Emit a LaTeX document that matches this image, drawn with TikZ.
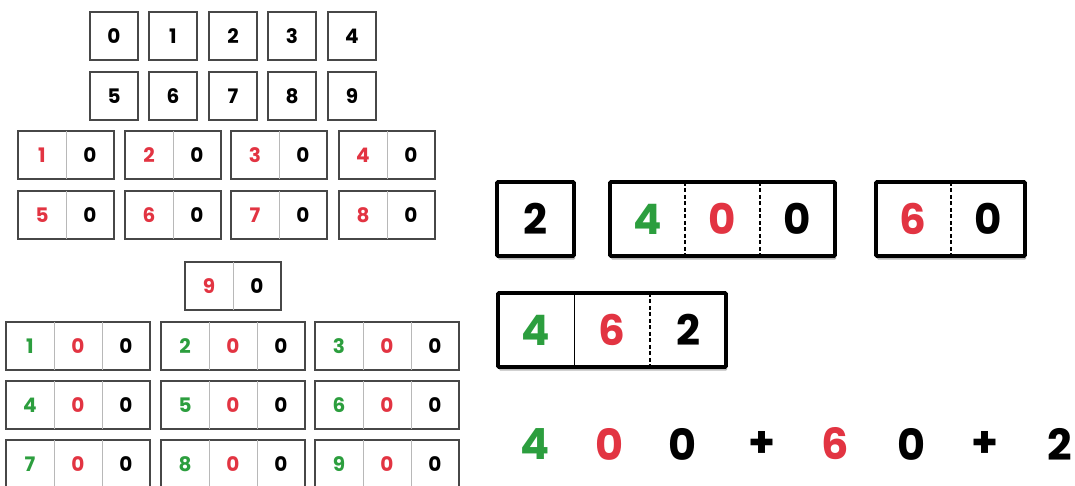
\documentclass[tikz,border=0pt]{standalone}
\usepackage{fontspec}
\setmainfont{Poppins}
\usetikzlibrary{shadows}

\definecolor{tensred}{RGB}{226,52,66}
\definecolor{hundgreen}{RGB}{44,158,62}

\tikzset{
  tile/.style={minimum width=48pt, minimum height=48pt, inner sep=0pt, font=\fontsize{20}{20}\selectfont\bfseries},
  bigtile/.style={minimum width=75pt, minimum height=74pt, inner sep=0pt, font=\fontsize{42}{42}\selectfont\bfseries},
  sumdigit/.style={inner sep=0pt, font=\fontsize{43}{43}\selectfont\bfseries},
  tilebox/.style={draw=black!72, line width=1.5pt},
  bigbox/.style={draw=black, line width=3.8pt, rounded corners=1pt, fill=white, drop shadow={shadow xshift=1pt, shadow yshift=-3.5pt, opacity=.5, fill=black!55}},
  tilesep/.style={draw=black!28, line width=0.7pt},
  bigsep/.style={draw=black, line width=1.6pt, dash pattern=on 4pt off 2.5pt},
}

\begin{document}
\begin{tikzpicture}[x=1pt,y=-1pt]
\clip (0,0) rectangle (1075,486);
% ones
\draw[tilebox] (90,12) rectangle (138,60);
\node[tile] (d0) at (114,36) {0};
\draw[tilebox] (149,12) rectangle (197,60);
\node[tile] (d1) at (173,36) {1};
\draw[tilebox] (209,12) rectangle (257,60);
\node[tile] (d2) at (233,36) {2};
\draw[tilebox] (268,12) rectangle (316,60);
\node[tile] (d3) at (292,36) {3};
\draw[tilebox] (328,12) rectangle (376,60);
\node[tile] (d4) at (352,36) {4};
\draw[tilebox] (90,72) rectangle (138,120);
\node[tile] (d5) at (114,96) {5};
\draw[tilebox] (149,72) rectangle (197,120);
\node[tile] (d6) at (173,96) {6};
\draw[tilebox] (209,72) rectangle (257,120);
\node[tile] (d7) at (233,96) {7};
\draw[tilebox] (268,72) rectangle (316,120);
\node[tile] (d8) at (292,96) {8};
\draw[tilebox] (328,72) rectangle (376,120);
\node[tile] (d9) at (352,96) {9};
% tens
\draw[tilebox] (18,131) rectangle (114,179);
\node[tile, text=tensred] (t10a) at (42,155) {1};
\node[tile] (t10b) at (90,155) {0};
\draw[tilesep] (t10a.north east) -- (t10a.south east);
\draw[tilebox] (125,131) rectangle (221,179);
\node[tile, text=tensred] (t20a) at (149,155) {2};
\node[tile] (t20b) at (197,155) {0};
\draw[tilesep] (t20a.north east) -- (t20a.south east);
\draw[tilebox] (231,131) rectangle (327,179);
\node[tile, text=tensred] (t30a) at (255,155) {3};
\node[tile] (t30b) at (303,155) {0};
\draw[tilesep] (t30a.north east) -- (t30a.south east);
\draw[tilebox] (339,131) rectangle (435,179);
\node[tile, text=tensred] (t40a) at (363,155) {4};
\node[tile] (t40b) at (411,155) {0};
\draw[tilesep] (t40a.north east) -- (t40a.south east);
\draw[tilebox] (18,191) rectangle (114,239);
\node[tile, text=tensred] (t50a) at (42,215) {5};
\node[tile] (t50b) at (90,215) {0};
\draw[tilesep] (t50a.north east) -- (t50a.south east);
\draw[tilebox] (125,191) rectangle (221,239);
\node[tile, text=tensred] (t60a) at (149,215) {6};
\node[tile] (t60b) at (197,215) {0};
\draw[tilesep] (t60a.north east) -- (t60a.south east);
\draw[tilebox] (231,191) rectangle (327,239);
\node[tile, text=tensred] (t70a) at (255,215) {7};
\node[tile] (t70b) at (303,215) {0};
\draw[tilesep] (t70a.north east) -- (t70a.south east);
\draw[tilebox] (339,191) rectangle (435,239);
\node[tile, text=tensred] (t80a) at (363,215) {8};
\node[tile] (t80b) at (411,215) {0};
\draw[tilesep] (t80a.north east) -- (t80a.south east);
\draw[tilebox] (185,262) rectangle (281,310);
\node[tile, text=tensred] (t90a) at (209,286) {9};
\node[tile] (t90b) at (257,286) {0};
\draw[tilesep] (t90a.north east) -- (t90a.south east);
% hundreds
\draw[tilebox] (6,322) rectangle (150,370);
\node[tile, text=hundgreen] (h100a) at (30,346) {1};
\node[tile, text=tensred] (h100b) at (78,346) {0};
\node[tile] (h100c) at (126,346) {0};
\draw[tilesep] (h100a.north east) -- (h100a.south east);
\draw[tilesep] (h100b.north east) -- (h100b.south east);
\draw[tilebox] (161,322) rectangle (305,370);
\node[tile, text=hundgreen] (h200a) at (185,346) {2};
\node[tile, text=tensred] (h200b) at (233,346) {0};
\node[tile] (h200c) at (281,346) {0};
\draw[tilesep] (h200a.north east) -- (h200a.south east);
\draw[tilesep] (h200b.north east) -- (h200b.south east);
\draw[tilebox] (315,322) rectangle (459,370);
\node[tile, text=hundgreen] (h300a) at (339,346) {3};
\node[tile, text=tensred] (h300b) at (387,346) {0};
\node[tile] (h300c) at (435,346) {0};
\draw[tilesep] (h300a.north east) -- (h300a.south east);
\draw[tilesep] (h300b.north east) -- (h300b.south east);
\draw[tilebox] (6,381) rectangle (150,429);
\node[tile, text=hundgreen] (h400a) at (30,405) {4};
\node[tile, text=tensred] (h400b) at (78,405) {0};
\node[tile] (h400c) at (126,405) {0};
\draw[tilesep] (h400a.north east) -- (h400a.south east);
\draw[tilesep] (h400b.north east) -- (h400b.south east);
\draw[tilebox] (161,381) rectangle (305,429);
\node[tile, text=hundgreen] (h500a) at (185,405) {5};
\node[tile, text=tensred] (h500b) at (233,405) {0};
\node[tile] (h500c) at (281,405) {0};
\draw[tilesep] (h500a.north east) -- (h500a.south east);
\draw[tilesep] (h500b.north east) -- (h500b.south east);
\draw[tilebox] (315,381) rectangle (459,429);
\node[tile, text=hundgreen] (h600a) at (339,405) {6};
\node[tile, text=tensred] (h600b) at (387,405) {0};
\node[tile] (h600c) at (435,405) {0};
\draw[tilesep] (h600a.north east) -- (h600a.south east);
\draw[tilesep] (h600b.north east) -- (h600b.south east);
\draw[tilebox] (6,440) rectangle (150,488);
\node[tile, text=hundgreen] (h700a) at (30,464) {7};
\node[tile, text=tensred] (h700b) at (78,464) {0};
\node[tile] (h700c) at (126,464) {0};
\draw[tilesep] (h700a.north east) -- (h700a.south east);
\draw[tilesep] (h700b.north east) -- (h700b.south east);
\draw[tilebox] (161,440) rectangle (305,488);
\node[tile, text=hundgreen] (h800a) at (185,464) {8};
\node[tile, text=tensred] (h800b) at (233,464) {0};
\node[tile] (h800c) at (281,464) {0};
\draw[tilesep] (h800a.north east) -- (h800a.south east);
\draw[tilesep] (h800b.north east) -- (h800b.south east);
\draw[tilebox] (315,440) rectangle (459,488);
\node[tile, text=hundgreen] (h900a) at (339,464) {9};
\node[tile, text=tensred] (h900b) at (387,464) {0};
\node[tile] (h900c) at (435,464) {0};
\draw[tilesep] (h900a.north east) -- (h900a.south east);
\draw[tilesep] (h900b.north east) -- (h900b.south east);
% the number 462
\draw[bigbox] (497,182) rectangle (574,256);
\node[bigtile, minimum width=77pt] (b2) at (535.5,219) {2};
\draw[bigbox] (610,182) rectangle (835,256);
\node[bigtile, text=hundgreen] (b400a) at (647.5,219) {4};
\node[bigtile, text=tensred] (b400b) at (722.5,219) {0};
\node[bigtile] (b400c) at (797.5,219) {0};
\draw[bigsep] (b400a.north east) -- (b400a.south east);
\draw[bigsep] (b400b.north east) -- (b400b.south east);
\draw[bigbox] (876,182) rectangle (1025,256);
\node[bigtile, minimum width=74.5pt, text=tensred] (b60a) at (913.25,219) {6};
\node[bigtile, minimum width=74.5pt] (b60b) at (987.75,219) {0};
\draw[bigsep] (b60a.north east) -- (b60a.south east);
\draw[bigbox] (498,293) rectangle (726,367);
\node[bigtile, minimum width=76pt, text=hundgreen] (b462a) at (536,330) {4};
\node[bigtile, minimum width=76pt, text=tensred] (b462b) at (612,330) {6};
\node[bigtile, minimum width=76pt] (b462c) at (688,330) {2};
\draw[black, line width=1.4pt] (b462a.north east) -- (b462a.south east);
\draw[bigsep] (b462b.north east) -- (b462b.south east);
% expanded form
\node[sumdigit, text=hundgreen] (e4) at (535,444) {4};
\node[sumdigit, text=tensred] (e0a) at (610,444) {0};
\node[sumdigit] (e0b) at (683,444) {0};
\node[sumdigit] (plusa) at (762,444) {+};
\node[sumdigit, text=tensred] (e6) at (835,444) {6};
\node[sumdigit] (e0c) at (912,444) {0};
\node[sumdigit] (plusb) at (985,444) {+};
\node[sumdigit] (e2) at (1060,444) {2};
\end{tikzpicture}
\end{document}
